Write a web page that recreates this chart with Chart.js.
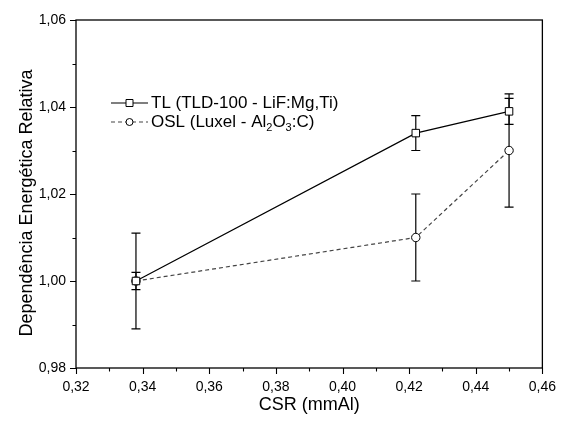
<!DOCTYPE html>
<html>
<head>
<meta charset="utf-8">
<script src="https://cdn.jsdelivr.net/npm/chart.js@4.4.1/dist/chart.umd.min.js"></script>
<style>
  body { margin: 0; background: #fff; }
</style>
</head>
<body>
<canvas id="chart" width="567" height="423"></canvas>
<script>
// data
const csr = [0.338, 0.422, 0.450];
const tlValues = [1.000, 1.034, 1.039];
const tlErrors = [0.002, 0.004, 0.003];
const oslValues = [1.000, 1.010, 1.030];
const oslErrors = [0.011, 0.010, 0.013];

const tlLabel = [['TL (TLD-100 - LiF:Mg,Ti)', false]];
const oslLabel = [['OSL (Luxel - Al', false], ['2', true], ['O', false], ['3', true], [':C)', false]];
const yTitle = 'Dependência Energética Relativa';

const FONT = '"Liberation Sans", Arial, sans-serif';
const comma = v => v.toFixed(2).replace('.', ',');
const isMajor = v => Math.round(v * 100) % 2 === 0;

// error bars, drawn below the markers
const errorBars = {
  id: 'errorBars',
  beforeDatasetsDraw(chart) {
    const ctx = chart.ctx;
    const xs = chart.scales.x, ys = chart.scales.y;
    ctx.save();
    ctx.strokeStyle = '#000';
    ctx.lineWidth = 1.2;
    chart.data.datasets.forEach(ds => {
      ds.errors.forEach((e, i) => {
        const px = xs.getPixelForValue(ds.data[i].x);
        const top = ys.getPixelForValue(ds.data[i].y + e);
        const bot = ys.getPixelForValue(ds.data[i].y - e);
        ctx.beginPath();
        ctx.moveTo(px, top); ctx.lineTo(px, bot);
        ctx.moveTo(px - 4.5, top); ctx.lineTo(px + 4.5, top);
        ctx.moveTo(px - 4.5, bot); ctx.lineTo(px + 4.5, bot);
        ctx.stroke();
      });
    });
    ctx.restore();
  }
};

// frame, outward major/minor ticks, y title and the legend
const frame = {
  id: 'frame',
  afterDraw(chart) {
    const ctx = chart.ctx;
    const a = chart.chartArea;
    const xs = chart.scales.x, ys = chart.scales.y;
    ctx.save();
    ctx.strokeStyle = '#000';
    ctx.lineWidth = 1.3;
    ctx.strokeRect(a.left, a.top, a.right - a.left, a.bottom - a.top);
    ctx.lineWidth = 1.1;
    ctx.beginPath();
    ys.ticks.forEach(t => {
      const py = Math.round(ys.getPixelForValue(t.value)) + 0.5;
      ctx.moveTo(a.left, py);
      ctx.lineTo(a.left - (isMajor(t.value) ? 6 : 3.5), py);
    });
    xs.ticks.forEach(t => {
      const px = Math.round(xs.getPixelForValue(t.value)) + 0.5;
      ctx.moveTo(px, a.bottom);
      ctx.lineTo(px, a.bottom + (isMajor(t.value) ? 6 : 3.5));
    });
    ctx.stroke();

    // y axis title, sitting a little below the middle as in the original
    ctx.save();
    ctx.translate(27, (a.top + a.bottom) / 2 + 9);
    ctx.rotate(-Math.PI / 2);
    ctx.font = '18px ' + FONT;
    ctx.fillStyle = '#000';
    ctx.textAlign = 'center';
    ctx.textBaseline = 'middle';
    ctx.fillText(yTitle, 0, 0);
    ctx.restore();

    // legend
    const lx = a.left + 35, tx = a.left + 75;
    const rows = [
      { y: a.top + 83, parts: tlLabel, ds: chart.data.datasets[0] },
      { y: a.top + 102, parts: oslLabel, ds: chart.data.datasets[1] }
    ];
    rows.forEach(r => {
      ctx.strokeStyle = r.ds.borderColor;
      ctx.lineWidth = r.ds.borderWidth;
      ctx.setLineDash(r.ds.borderDash || []);
      ctx.beginPath();
      ctx.moveTo(lx, r.y); ctx.lineTo(lx + 37, r.y);
      ctx.stroke();
      ctx.setLineDash([]);
      ctx.fillStyle = '#fff';
      ctx.strokeStyle = '#000';
      ctx.lineWidth = 1;
      ctx.beginPath();
      if (r.ds.pointStyle === 'rect') {
        ctx.rect(lx + 15, r.y - 3.5, 7, 7);
      } else {
        ctx.arc(lx + 18.5, r.y, 3.5, 0, Math.PI * 2);
      }
      ctx.fill(); ctx.stroke();
      ctx.fillStyle = '#000';
      ctx.textBaseline = 'middle';
      let x = tx;
      r.parts.forEach(([s, sub]) => {
        ctx.font = (sub ? '11px ' : '17px ') + FONT;
        ctx.fillText(s, x, r.y + (sub ? 6 : 0));
        x += ctx.measureText(s).width;
      });
    });
    ctx.restore();
  }
};

new Chart(document.getElementById('chart'), {
  type: 'line',
  data: {
    datasets: [
      {
        label: 'TL (TLD-100 - LiF:Mg,Ti)',
        data: csr.map((x, i) => ({ x, y: tlValues[i] })),
        errors: tlErrors,
        borderColor: '#000',
        borderWidth: 1.2,
        pointStyle: 'rect',
        pointRadius: 5.3,
        pointBorderWidth: 1,
        pointBackgroundColor: '#fff',
        pointBorderColor: '#000'
      },
      {
        label: 'OSL (Luxel - Al2O3:C)',
        data: csr.map((x, i) => ({ x, y: oslValues[i] })),
        errors: oslErrors,
        borderColor: '#444',
        borderWidth: 1.2,
        borderDash: [4, 3],
        pointStyle: 'circle',
        pointRadius: 4.2,
        pointBorderWidth: 1,
        pointBackgroundColor: '#fff',
        pointBorderColor: '#000'
      }
    ]
  },
  options: {
    responsive: false,
    animation: false,
    devicePixelRatio: 1,
    layout: { padding: { top: 20, right: 15, left: 0, bottom: 0 } },
    plugins: { legend: { display: false }, tooltip: { enabled: false } },
    scales: {
      x: {
        type: 'linear',
        min: 0.32,
        max: 0.46,
        afterFit: s => { s.height = 55; },
        grid: { display: false, drawTicks: false },
        border: { display: false },
        ticks: {
          stepSize: 0.01,
          autoSkip: false,
          maxRotation: 0,
          padding: 11,
          color: '#000',
          font: { family: FONT, size: 14 },
          callback: v => isMajor(v) ? comma(v) : ''
        },
        title: {
          display: true,
          text: 'CSR (mmAl)',
          color: '#000',
          font: { family: FONT, size: 18 },
          padding: { top: 0, bottom: 7 }
        }
      },
      y: {
        min: 0.98,
        max: 1.06,
        afterFit: s => { s.width = 76; },
        grid: { display: false, drawTicks: false },
        border: { display: false },
        ticks: {
          stepSize: 0.01,
          autoSkip: false,
          padding: 10,
          color: '#000',
          font: { family: FONT, size: 14 },
          callback: v => isMajor(v) ? comma(v) : ''
        }
      }
    }
  },
  plugins: [errorBars, frame]
});
</script>
</body>
</html>
